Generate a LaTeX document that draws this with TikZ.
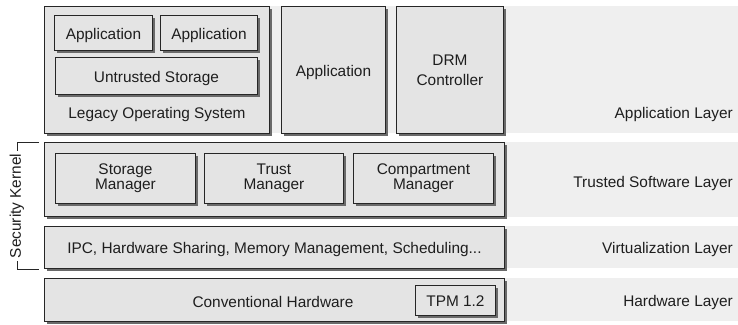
\documentclass[tikz,border=0pt]{standalone}
\usepackage{fontspec}
\setmainfont{Liberation Sans}
\usetikzlibrary{shadows}
\definecolor{bandfill}{HTML}{EFEFEF}
\definecolor{boxfill}{HTML}{E4E4E4}
\definecolor{txt}{HTML}{1E1E1E}
\definecolor{shade}{HTML}{6A6A6A}
\tikzset{
  band/.style={fill=bandfill, draw=none, anchor=north west, inner sep=0pt, minimum height=#1},
  box/.style={draw=black!85, line width=0.9pt, fill=boxfill, anchor=north west, inner sep=0pt,
    text=txt, align=center,
    drop shadow={shadow xshift=2.6pt, shadow yshift=-2.6pt, fill=shade, opacity=1}},
  one/.style={text height=16pt, text depth=3.2pt},
  lbl/.style={text=txt, inner sep=0pt},
  tight/.style={font=\fontsize{15.4}{15.5}\selectfont},
  loose/.style={font=\fontsize{15.4}{20}\selectfont},
}
\begin{document}
\begin{tikzpicture}[x=1pt,y=-1pt,font=\fontsize{15.4}{18}\selectfont]
\useasboundingbox (0,0) rectangle (738,324);
% layer bands
\node[band=127pt, minimum width=694pt] (bApp) at (44,6) {};
\node[band=75pt, minimum width=694pt] (bTrust) at (44,142) {};
\node[band=42pt, minimum width=694pt] (bVirt) at (44,226) {};
\node[band=43pt, minimum width=694pt] (bHw) at (44,278) {};
\node[lbl, anchor=east] (lApp) at (733,115) {Application Layer};
\node[lbl, anchor=east] (lTrust) at (733,184) {Trusted Software Layer};
\node[lbl, anchor=east] (lVirt) at (733,250) {Virtualization Layer};
\node[lbl, anchor=east] (lHw) at (733,303) {Hardware Layer};
% application layer
\node[box, minimum width=225pt, minimum height=127pt] (legacy) at (44,6) {};
\node[box, one, minimum width=98pt, minimum height=35pt] (app1) at (54,15) {Application};
\node[box, one, minimum width=97pt, minimum height=35pt] (app2) at (160,15) {Application};
\node[box, one, minimum width=202pt, minimum height=37pt] (untr) at (55,57) {Untrusted Storage};
\node[lbl] (legacyL) at (157,115) {Legacy Operating System};
\node[box, one, minimum width=104pt, minimum height=127pt] (app3) at (281,6) {Application};
\node[box, minimum width=107pt, minimum height=127pt, loose] (drm) at (396,6) {DRM\\Controller};
% trusted software layer
\node[box, minimum width=460pt, minimum height=74pt] (trusted) at (44,142) {};
\node[box, minimum width=140pt, minimum height=50pt, tight] (sm) at (55,153) {Storage\\Manager};
\node[box, minimum width=139pt, minimum height=50pt, tight] (tm) at (204,153) {Trust\\Manager};
\node[box, minimum width=140pt, minimum height=50pt, tight] (cm) at (353,153) {Compartment\\Manager};
% virtualization layer
\node[box, one, minimum width=460pt, minimum height=42pt] (virt) at (44,226) {IPC, Hardware Sharing, Memory Management, Scheduling...};
% hardware layer
\node[box, minimum width=460pt, minimum height=43pt] (hw) at (44,278) {};
\node[lbl] (hwL) at (273,302) {Conventional Hardware};
\node[box, one, minimum width=80pt, minimum height=30pt] (tpm) at (415,285) {TPM 1.2};
% security kernel bracket
\coordinate (skTop) at (39,142);
\coordinate (skBot) at (39,269);
\draw[black!85, line width=0.8pt] (skTop) -| (17,269) -- (skBot);
\node[lbl, rotate=90, fill=white, inner sep=2.5pt] (sk) at (17,206) {Security Kernel};
\end{tikzpicture}
\end{document}
